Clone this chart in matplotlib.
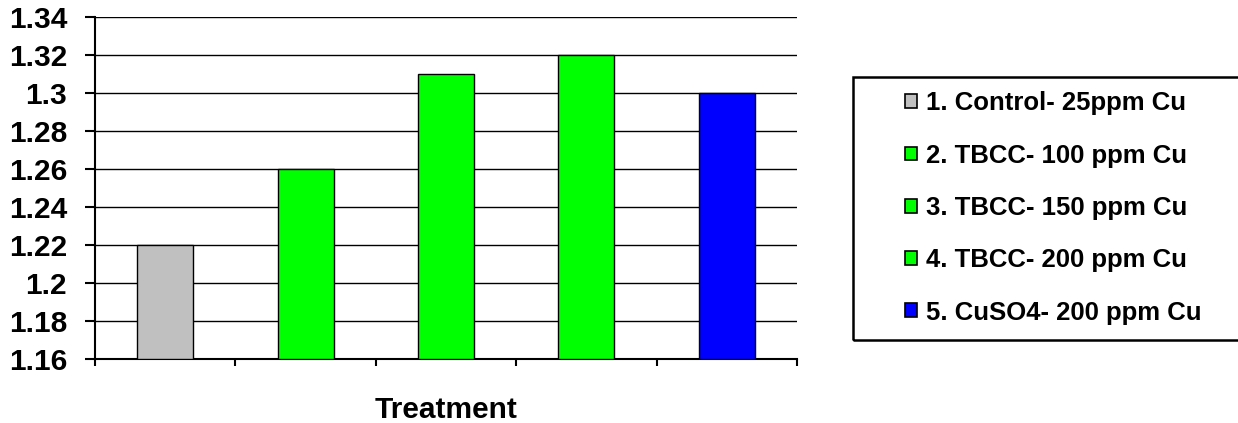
import numpy as np
import matplotlib.pyplot as plt
from matplotlib.patches import Patch, Rectangle

labels = ['1. Control- 25ppm Cu', '2. TBCC- 100 ppm Cu', '3. TBCC- 150 ppm Cu',
          '4. TBCC- 200 ppm Cu', '5. CuSO4- 200 ppm Cu']
values = [1.22, 1.26, 1.31, 1.32, 1.30]
colors = ['#C0C0C0', '#00FF00', '#00FF00', '#00FF00', '#0000FF']
yticks = [1.16, 1.18, 1.20, 1.22, 1.24, 1.26, 1.28, 1.30, 1.32, 1.34]
ytick_labels = ['1.16', '1.18', '1.2', '1.22', '1.24', '1.26', '1.28', '1.3', '1.32', '1.34']

plt.rcParams['font.family'] = ['Liberation Sans', 'DejaVu Sans']
plt.rcParams['font.weight'] = 'bold'

W, H = 1238, 423
fig = plt.figure(figsize=(W / 100, H / 100), dpi=100)
ax = fig.add_axes([95 / W, (H - 359) / H, 702 / W, 342 / H])

x = np.arange(len(values))
ax.bar(x, np.array(values) - 1.16, bottom=1.16, width=0.4, color=colors,
       edgecolor='black', linewidth=1.0, zorder=3)

ax.set_xlim(-0.5, len(values) - 0.5)
ax.set_ylim(1.16, 1.34)
ax.set_yticks(yticks)
ax.set_yticklabels(ytick_labels, fontsize=21.5, fontweight='bold')
ax.set_xticks(np.arange(len(values) + 1) - 0.5)
ax.set_xticklabels([])
ax.tick_params(axis='y', direction='out', length=7, width=1.5, pad=13)
ax.tick_params(axis='x', direction='out', length=5, width=1.5)
ax.yaxis.grid(True, color='black', linewidth=1.0, zorder=0)
ax.set_axisbelow(True)

for side in ['top', 'right']:
    ax.spines[side].set_visible(False)
for side in ['left', 'bottom']:
    ax.spines[side].set_linewidth(1.5)

ax.set_xlabel('Treatment', fontsize=21.5, fontweight='bold', labelpad=18)

# legend box (frame drawn separately, it runs off the right edge)
fig.patches.append(Rectangle((853 / W, (H - 340) / H), 400 / W, 263 / H,
                             transform=fig.transFigure, facecolor='none',
                             edgecolor='black', linewidth=1.8))

handles = [Patch(facecolor=c, edgecolor='black', linewidth=1.2) for c in colors]
leg = fig.legend(handles, labels, loc='center',
                 bbox_to_anchor=(1053 / W, (H - 208) / H),
                 frameon=False, prop={'size': 18.5, 'weight': 'bold'},
                 handlelength=0.45, handleheight=0.45, handletextpad=0.35,
                 labelspacing=1.1, borderaxespad=0)

fig.savefig('out.png', dpi=100)
